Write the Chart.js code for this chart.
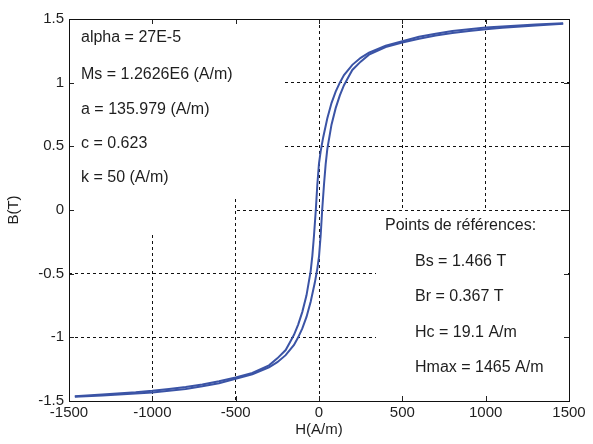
<!DOCTYPE html>
<html><head><meta charset="utf-8">
<script src="https://cdn.jsdelivr.net/npm/chart.js@4/dist/chart.umd.min.js"></script>
<style>html,body{margin:0;padding:0;background:#fff;}</style>
</head><body>
<canvas id="c" width="593" height="444" style="display:block;width:593px;height:444px"></canvas>
<script>
// ---- data ----
const xTickValues = [-1500, -1000, -500, 0, 500, 1000, 1500];
const yTickValues = [-1.5, -1, -0.5, 0, 0.5, 1, 1.5];

// descending branch (from +Hmax to -Hmax)
const descH = [1465, 1300, 1100, 1000, 900, 800, 700, 600, 500, 400, 300, 250, 200, 150, 125, 100, 75, 50, 25, 10, 0, -10, -19.1, -30, -40, -50, -75, -100, -125, -150, -175, -200, -250, -300, -400, -500, -600, -700, -800, -900, -1000, -1100, -1300, -1465];
const descB = [1.466, 1.456, 1.442, 1.433, 1.42, 1.405, 1.385, 1.36, 1.325, 1.29, 1.235, 1.195, 1.14, 1.06, 1.0, 0.93, 0.84, 0.72, 0.57, 0.46, 0.367, 0.2, 0, -0.2, -0.36, -0.48, -0.67, -0.8, -0.9, -0.98, -1.04, -1.1, -1.165, -1.22, -1.28, -1.315, -1.345, -1.37, -1.39, -1.405, -1.42, -1.432, -1.448, -1.463];

// ascending branch (from -Hmax to +Hmax)
const ascH = [-1465, -1300, -1100, -1000, -900, -800, -700, -600, -500, -400, -300, -250, -200, -150, -125, -100, -75, -50, -25, -10, 0, 10, 19.1, 30, 40, 50, 75, 100, 125, 150, 175, 200, 250, 300, 400, 500, 600, 700, 800, 900, 1000, 1100, 1300, 1465];
const ascB = [-1.466, -1.456, -1.442, -1.433, -1.42, -1.405, -1.385, -1.36, -1.325, -1.29, -1.235, -1.195, -1.14, -1.06, -1.0, -0.93, -0.84, -0.72, -0.57, -0.46, -0.367, -0.2, 0, 0.2, 0.36, 0.48, 0.67, 0.8, 0.9, 0.98, 1.04, 1.1, 1.165, 1.22, 1.28, 1.315, 1.345, 1.37, 1.39, 1.405, 1.42, 1.432, 1.448, 1.463];

const paramLines = ['alpha = 27E-5', 'Ms = 1.2626E6 (A/m)', 'a = 135.979 (A/m)', 'c = 0.623', 'k = 50 (A/m)'];
const refTitle = 'Points de références:';
const refLines = ['Bs = 1.466 T', 'Br = 0.367 T', 'Hc = 19.1 A/m', 'Hmax = 1465 A/m'];
const xTitle = 'H(A/m)';
const yTitle = 'B(T)';

// ---- rendering ----
const FONT = '"Liberation Sans", Arial, sans-serif';
const TXT = '#1e1e1e';
const LINE = '#3b54a6';

function pts(hs, bs) { return hs.map((h, i) => ({x: h, y: bs[i]})); }

const overlay = {
  id: 'overlay',
  beforeDatasetsDraw(chart) {
    const {ctx, chartArea: a, scales: {x, y}} = chart;
    ctx.save();
    // white backgrounds of the text boxes (hide grid)
    ctx.fillStyle = '#fff';
    ctx.fillRect(a.left + 1, a.top + 1, 283 - a.left, 198 - a.top);
    ctx.fillRect(a.left + 1, 198, 234 - a.left, 35);
    ctx.fillRect(376, 211, a.right - 1 - 376, a.bottom - 1 - 211);
    // inward ticks on all sides
    ctx.strokeStyle = '#222';
    ctx.lineWidth = 1;
    ctx.beginPath();
    xTickValues.forEach(v => {
      const px = Math.round(x.getPixelForValue(v)) + 0.5;
      ctx.moveTo(px, a.top); ctx.lineTo(px, a.top + 5);
      ctx.moveTo(px, a.bottom); ctx.lineTo(px, a.bottom - 5);
    });
    yTickValues.forEach(v => {
      const py = Math.round(y.getPixelForValue(v)) + 0.5;
      ctx.moveTo(a.left, py); ctx.lineTo(a.left + 5, py);
      ctx.moveTo(a.right, py); ctx.lineTo(a.right - 5, py);
    });
    ctx.stroke();
    // frame
    ctx.strokeStyle = '#111';
    ctx.strokeRect(Math.round(a.left) + 0.5, Math.round(a.top) + 0.5, Math.round(a.right - a.left), Math.round(a.bottom - a.top));
    ctx.restore();
  },
  afterDraw(chart) {
    const {ctx} = chart;
    ctx.save();
    ctx.fillStyle = TXT;
    ctx.font = '16px ' + FONT;
    ctx.textBaseline = 'middle';
    ctx.textAlign = 'left';
    const pY = [38, 75, 110, 144, 178];
    paramLines.forEach((t, i) => ctx.fillText(t, 81, pY[i]));
    ctx.fillText(refTitle, 385, 226);
    const rY = [262, 297, 333, 368];
    refLines.forEach((t, i) => ctx.fillText(t, 415, rY[i]));
    ctx.restore();
  }
};

new Chart(document.getElementById('c'), {
  type: 'scatter',
  data: {
    datasets: [
      {data: pts(descH, descB), showLine: true, borderColor: LINE, borderWidth: 2, pointRadius: 0, tension: 0, fill: false},
      {data: pts(ascH, ascB), showLine: true, borderColor: LINE, borderWidth: 2, pointRadius: 0, tension: 0, fill: false}
    ]
  },
  options: {
    responsive: false,
    animation: false,
    devicePixelRatio: 1,
    layout: {padding: {top: 19, right: 24, left: 0, bottom: 0}},
    plugins: {legend: {display: false}, tooltip: {enabled: false}},
    scales: {
      x: {
        type: 'linear', min: -1500, max: 1500,
        afterBuildTicks: s => { s.ticks = xTickValues.map(v => ({value: v})); },
        afterFit: s => { s.height = 43; },
        ticks: {color: TXT, font: {family: FONT, size: 15}, padding: 3, maxRotation: 0, callback: v => String(v)},
        grid: {color: '#111', lineWidth: 1, drawTicks: false},
        border: {display: false, dash: [3, 3]},
        title: {display: true, text: xTitle, color: TXT, font: {family: FONT, size: 15}, padding: {top: 0, bottom: 5}}
      },
      y: {
        type: 'linear', min: -1.5, max: 1.5,
        afterBuildTicks: s => { s.ticks = yTickValues.map(v => ({value: v})); },
        afterFit: s => { s.width = 69; },
        ticks: {color: TXT, font: {family: FONT, size: 15}, padding: 5, callback: v => String(v)},
        grid: {color: '#111', lineWidth: 1, drawTicks: false},
        border: {display: false, dash: [3, 3]},
        title: {display: true, text: yTitle, color: TXT, font: {family: FONT, size: 15}, padding: {top: 5, bottom: 0}}
      }
    }
  },
  plugins: [overlay]
});
</script>
</body></html>
